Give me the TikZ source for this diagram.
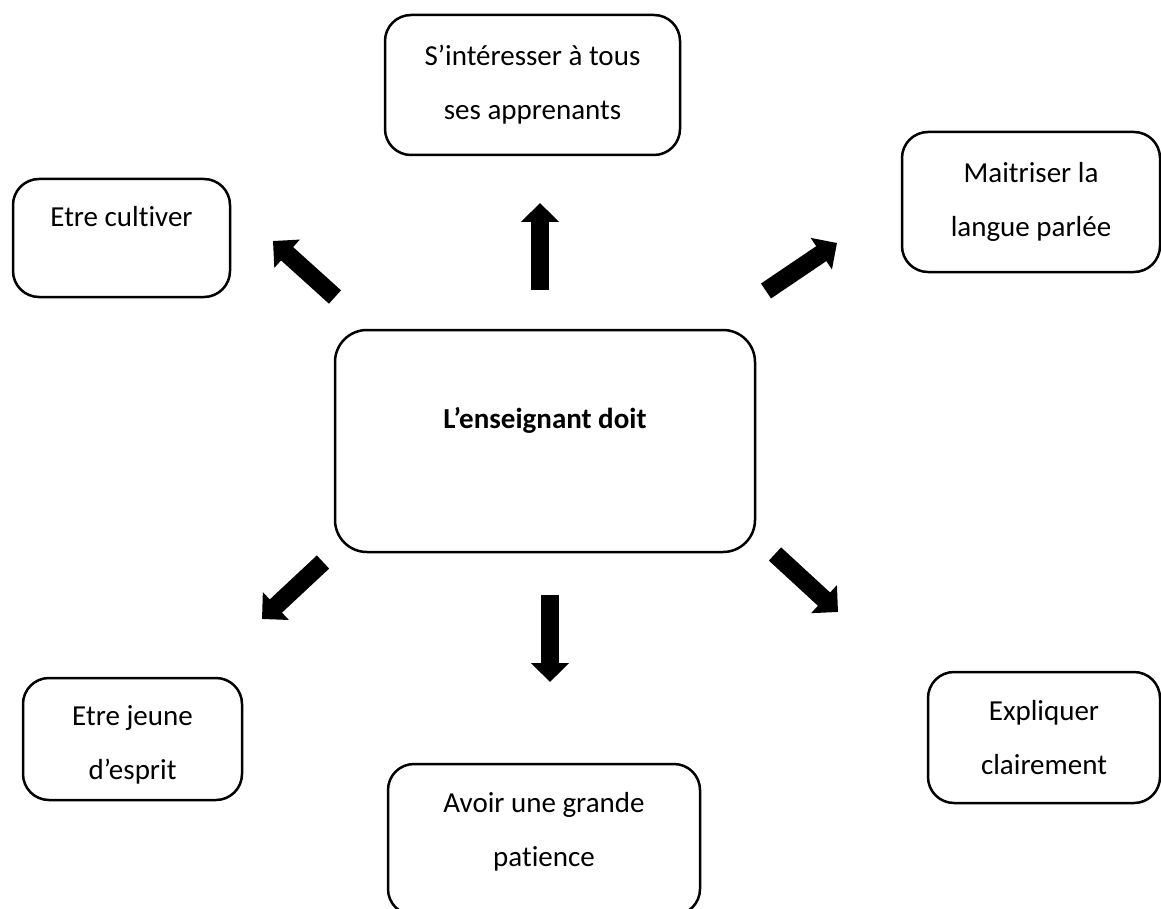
\documentclass[tikz,border=0pt]{standalone}
\usepackage{fontspec}
\setmainfont[Ligatures=NoCommon]{Carlito}
\usetikzlibrary{arrows.meta}

\begin{document}
\begin{tikzpicture}[x=1pt, y=-1pt,
    box/.style={draw, line width=2.5pt, rounded corners=26pt, align=center, inner sep=0pt,
                font=\fontsize{29}{54}\selectfont},
    bigarrow/.style={line width=18pt, -{Triangle[width=37pt, length=19pt]}}]
    \useasboundingbox (0,0) rectangle (1161,909);
    \clip (0,0) rectangle (1161,909);

    \node[box, minimum width=420pt, minimum height=222pt, rounded corners=32pt, text depth=46pt] at (545, 441) (centre) {\textbf{L’enseignant doit}};
    \node[box, minimum width=295pt, minimum height=140pt] at (532.5, 85)  (interesser) {S’intéresser à tous\\ses apprenants};
    \node[box, minimum width=258pt, minimum height=140pt] at (1031, 202)  (maitriser) {Maitriser la\\langue parlée};
    \node[box, minimum width=217pt, minimum height=118pt, text depth=44pt] at (121.5, 238) (cultiver) {Etre cultiver};
    \node[box, minimum width=219pt, minimum height=122pt, text height=86pt] at (132.5, 739) (jeune) {Etre jeune\\d’esprit};
    \node[box, minimum width=312pt, minimum height=151pt, text depth=20pt] at (544, 839.5) (patience) {Avoir une grande\\patience};
    \node[box, minimum width=232pt, minimum height=131pt] at (1044, 737.5) (expliquer) {Expliquer\\clairement};

    % block arrows
    \coordinate (upTail) at (540, 290);   \coordinate (upTip) at (540, 203);
    \coordinate (ulTail) at (335, 297);   \coordinate (ulTip) at (273, 241);
    \coordinate (urTail) at (766, 291);   \coordinate (urTip) at (837, 243);
    \coordinate (llTail) at (323, 562);   \coordinate (llTip) at (262, 619);
    \coordinate (dnTail) at (550, 595);   \coordinate (dnTip) at (550, 682);
    \coordinate (lrTail) at (775, 554);   \coordinate (lrTip) at (838, 612);

    \draw[bigarrow] (upTail) -- (upTip);
    \draw[bigarrow] (ulTail) -- (ulTip);
    \draw[bigarrow] (urTail) -- (urTip);
    \draw[bigarrow] (llTail) -- (llTip);
    \draw[bigarrow] (dnTail) -- (dnTip);
    \draw[bigarrow] (lrTail) -- (lrTip);
\end{tikzpicture}
\end{document}
